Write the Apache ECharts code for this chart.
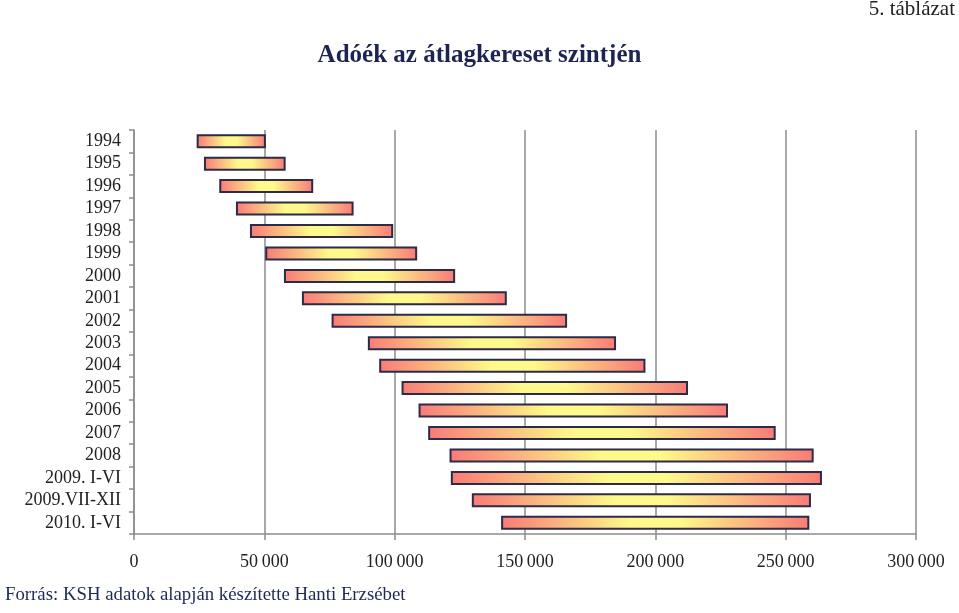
<!DOCTYPE html>
<html>
<head>
<meta charset="utf-8">
<script src="https://cdn.jsdelivr.net/npm/echarts@6/dist/echarts.min.js"></script>
<style>
html,body{margin:0;padding:0;background:#fff;}
#chart{width:959px;height:613px;}
</style>
</head>
<body>
<div id="chart"></div>
<script>
var categories = ['1994','1995','1996','1997','1998','1999','2000','2001','2002','2003','2004','2005','2006','2007','2008','2009. I-VI','2009.VII-XII','2010. I-VI'];
var lowValues = [24040, 26840, 32710, 39110, 44480, 50350, 57520, 64420, 75800, 89720, 94060, 102640, 109160, 112850, 121050, 121550, 129600, 140840];
var highValues = [50610, 58170, 68750, 84240, 99430, 108630, 123200, 143020, 166150, 184930, 196200, 212540, 227880, 246170, 260740, 263920, 259700, 259080];
var xTicks = [0, 50000, 100000, 150000, 200000, 250000, 300000];

var rangeValues = highValues.map(function(h, i){ return h - lowValues[i]; });

function fmt(v){
  return String(v).replace(/\B(?=(\d{3})+(?!\d))/g, '\u2009');
}

var serif = '"Liberation Serif","Times New Roman",serif';
var chart = echarts.init(document.getElementById('chart'));
chart.setOption({
  backgroundColor: '#ffffff',
  animation: false,
  title: [
    {text: 'Adóék az átlagkereset szintjén', left: 'center', top: 43, padding: 0,
     textStyle: {fontFamily: serif, fontSize: 25, fontWeight: 'bold', color: '#1b2452'}},
    {text: '5. táblázat', right: 4, top: -1, padding: 0,
     textStyle: {fontFamily: serif, fontSize: 21, fontWeight: 'normal', color: '#222'}},
    {text: 'Forrás: KSH adatok alapján készítette Hanti Erzsébet', left: 5, top: 586, padding: 0,
     textStyle: {fontFamily: serif, fontSize: 18.8, fontWeight: 'normal', color: '#1c2a55'}}
  ],
  grid: {left: 134, right: 43, top: 130, bottom: 79, containLabel: false},
  xAxis: {
    type: 'value', min: xTicks[0], max: xTicks[xTicks.length-1], interval: xTicks[1]-xTicks[0],
    axisLine: {show: true, lineStyle: {color: '#8c8c8c', width: 1.5}},
    axisTick: {show: true, length: 6, lineStyle: {color: '#8c8c8c', width: 1.5}},
    splitLine: {show: true, lineStyle: {color: '#8c8c8c', width: 1.5}},
    axisLabel: {margin: 19, fontFamily: serif, fontSize: 18, color: '#222', formatter: fmt}
  },
  yAxis: {
    type: 'category', data: categories, inverse: true,
    axisLine: {show: true, lineStyle: {color: '#8c8c8c', width: 1.5}},
    axisTick: {show: true, length: 5, interval: 0, lineStyle: {color: '#8c8c8c', width: 1.5}},
    axisLabel: {margin: 13, interval: 0, fontFamily: serif, fontSize: 18, color: '#222'}
  },
  series: [
    {type: 'bar', stack: 'r', data: lowValues, barWidth: 14, silent: true,
     itemStyle: {color: 'rgba(0,0,0,0)'}},
    {type: 'bar', stack: 'r', data: rangeValues, barWidth: 14,
     itemStyle: {
       color: new echarts.graphic.LinearGradient(0, 0, 1, 0, [
         {offset: 0, color: '#f97b77'},
         {offset: 0.42, color: '#fef98a'},
         {offset: 0.58, color: '#fef98a'},
         {offset: 1, color: '#f97b77'}
       ]),
       borderColor: '#2c2b48', borderWidth: 2
     }}
  ]
});
</script>
</body>
</html>
